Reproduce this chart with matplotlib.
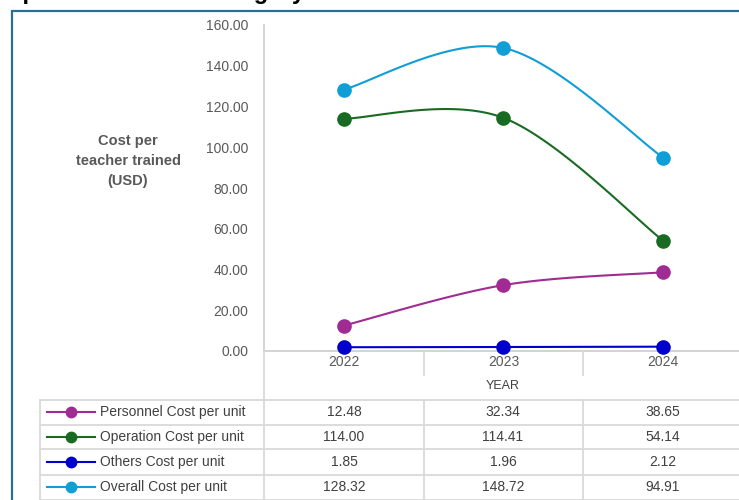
import numpy as np
import matplotlib
matplotlib.use("Agg")
import matplotlib.pyplot as plt
from matplotlib.lines import Line2D
from matplotlib.patches import Rectangle

plt.rcParams['font.family'] = ['Liberation Sans', 'DejaVu Sans']

years = ['2022', '2023', '2024']
series_names = ['Personnel Cost per unit', 'Operation Cost per unit',
                'Others Cost per unit', 'Overall Cost per unit']
personnel = [12.48, 32.34, 38.65]
operation = [114.00, 114.41, 54.14]
others = [1.85, 1.96, 2.12]
overall = [128.32, 148.72, 94.91]
colors = ['#A02B93', '#196B24', '#0000CC', '#0F9ED5']

W, H = 739, 500
fig = plt.figure(figsize=(W / 100, H / 100), dpi=100)


def fx(x):
    return x / W


def fy(y):
    return 1 - y / H


def smooth(xs, ys, n=40):
    # excel style smoothed line: bezier segments, catmull-rom control points
    P = np.column_stack([xs, ys]).astype(float)
    out = []
    for i in range(len(P) - 1):
        p0 = P[max(i - 1, 0)]
        p1 = P[i]
        p2 = P[i + 1]
        p3 = P[min(i + 2, len(P) - 1)]
        c1 = p1 + (p2 - p0) / 6
        c2 = p2 - (p3 - p1) / 6
        t = np.linspace(0, 1, n)[:, None]
        seg = (1 - t) ** 3 * p1 + 3 * (1 - t) ** 2 * t * c1 + 3 * (1 - t) * t ** 2 * c2 + t ** 3 * p2
        out.append(seg if i == 0 else seg[1:])
    seg = np.vstack(out)
    return seg[:, 0], seg[:, 1]


ax = fig.add_axes([fx(264), fy(351), (743 - 264) / W, (351 - 25) / H])
ax.set_xlim(-0.5, 2.5)
ax.set_ylim(0, 160)
ax.set_yticks(np.arange(0, 161, 20))
ax.set_yticklabels(['%.2f' % v for v in np.arange(0, 161, 20)])
ax.set_xticks(range(len(years)))
ax.set_xticklabels(years)
ax.tick_params(axis='y', length=0, pad=11.5, labelsize=10, labelcolor='#595959')
ax.tick_params(axis='x', length=0, pad=3, labelsize=10, labelcolor='#595959')
for s in ['top', 'right']:
    ax.spines[s].set_visible(False)
for s in ['left', 'bottom']:
    ax.spines[s].set_color('#D0D0D0')
    ax.spines[s].set_linewidth(1.3)
ax.patch.set_alpha(0)

all_series = [personnel, operation, others, overall]
xs = np.arange(len(years))
for vals, c in zip(all_series, colors):
    sx, sy = smooth(xs, vals)
    ax.plot(sx, sy, color=c, lw=1.5, clip_on=False, zorder=3)
    ax.plot(xs, vals, 'o', color=c, ms=9.5, clip_on=False, zorder=4)

# y axis title
fig.text(fx(128), fy(161), 'Cost per\nteacher trained\n(USD)', ha='center', va='center',
         fontsize=10.5, fontweight='bold', color='#595959', linespacing=1.55)

# title, mostly cut off by the top edge in the original
fig.text(fx(-30), fy(-1), 'Comparison of Cost Category', ha='left', va='baseline',
         fontsize=17, fontweight='bold', color='black')

# data table under the chart
grid = '#D9D9D9'


def hline(y, x0, x1):
    fig.add_artist(Line2D([fx(x0), fx(x1)], [fy(y), fy(y)], color=grid, lw=1.3,
                          transform=fig.transFigure))


def vline(x, y0, y1):
    fig.add_artist(Line2D([fx(x), fx(x)], [fy(y0), fy(y1)], color=grid, lw=1.3,
                          transform=fig.transFigure))


vline(264, 351, 500)
for x in [424, 583, 743]:
    vline(x, 351, 375)
    vline(x, 400, 500)
vline(40, 400, 500)
row_y = [400, 424.5, 449, 474.5, 499.5]
for y in row_y:
    hline(y, 40, 743)

fig.text(fx(503), fy(386), 'YEAR', ha='center', va='center', fontsize=9, color='#404040')

col_x = [344, 503, 663]
for i, (name, vals, c) in enumerate(zip(series_names, all_series, colors)):
    yc = (row_y[i] + row_y[i + 1]) / 2
    fig.add_artist(Line2D([fx(47), fx(95)], [fy(yc), fy(yc)], color=c, lw=1.5,
                          transform=fig.transFigure))
    fig.add_artist(Line2D([fx(71)], [fy(yc)], marker='o', ms=7.5, color=c,
                          transform=fig.transFigure))
    fig.text(fx(100), fy(yc), name, ha='left', va='center', fontsize=10, color='#404040')
    for x, v in zip(col_x, vals):
        fig.text(fx(x), fy(yc), '%.2f' % v, ha='center', va='center', fontsize=10,
                 color='#404040')

# outer frame
fig.add_artist(Rectangle((fx(12), fy(520)), fx(760 - 12), (520 - 11) / H, fill=False,
                         edgecolor='#2A6E93', lw=1.6, transform=fig.transFigure,
                         clip_on=False))

fig.savefig('out.png', dpi=100)
